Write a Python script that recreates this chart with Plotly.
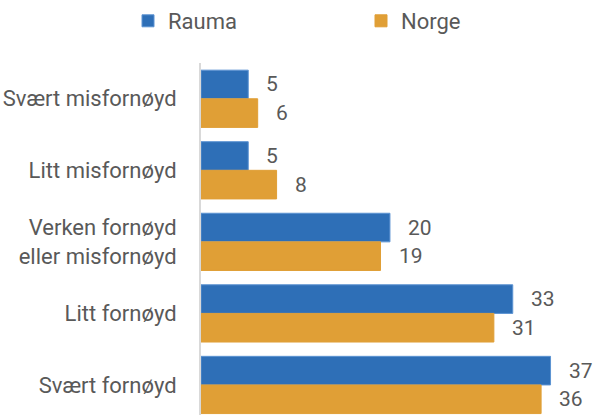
import plotly.graph_objects as go

categories = [
    "Svært misfornøyd",
    "Litt misfornøyd",
    "Verken fornøyd<br>eller misfornøyd",
    "Litt fornøyd",
    "Svært fornøyd",
]
rauma = [5, 5, 20, 33, 37]
norge = [6, 8, 19, 31, 36]

BLUE = "#2E6FB7"
ORANGE = "#E09F36"
TEXT = "#595959"
FONT = "Roboto"
SIZE = 22

fig = go.Figure()
fig.add_trace(go.Bar(
    name="Rauma", y=categories, x=rauma, orientation="h",
    marker=dict(color=BLUE, line=dict(color="#5C93D2", width=1)),
))
fig.add_trace(go.Bar(
    name="Norge", y=categories, x=norge, orientation="h",
    marker=dict(color=ORANGE, line=dict(color=ORANGE, width=1)),
))

# value labels to the right of each bar
annotations = []
for i in range(len(categories)):
    for val, off in ((rauma[i], -0.2), (norge[i], 0.2)):
        annotations.append(dict(
            x=val, y=i + off, xref="x", yref="y",
            text=str(val), showarrow=False,
            xanchor="left", yanchor="middle", xshift=16,
            font=dict(family=FONT, size=SIZE - 1, color=TEXT),
        ))

fig.update_layout(
    width=594, height=415,
    margin=dict(l=201, r=0, t=62, b=0),
    paper_bgcolor="white", plot_bgcolor="white",
    barmode="group", bargap=0.2, bargroupgap=0,
    font=dict(family=FONT, size=SIZE, color=TEXT),
    showlegend=True,
    legend=dict(
        orientation="h", x=-0.114, xanchor="left", y=1.119, yanchor="middle",
        entrywidth=188, entrywidthmode="pixels",
        font=dict(family=FONT, size=SIZE, color=TEXT),
        itemwidth=30,
    ),
    xaxis=dict(visible=False, range=[0, 41.6]),
    yaxis=dict(
        type="category", range=[4.42, -0.5],
        showline=True, linecolor="#D9D9D9", linewidth=2,
        showgrid=False, zeroline=False, ticks="",
        ticklabelstandoff=18,
        tickfont=dict(family=FONT, size=SIZE, color=TEXT),
    ),
    annotations=annotations,
)

fig.write_html("out.html")
